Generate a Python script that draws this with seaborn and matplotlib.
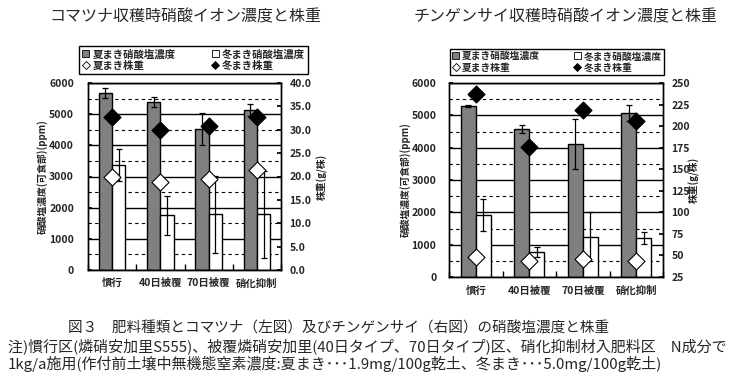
import numpy as np
import pandas as pd
import matplotlib
matplotlib.use("Agg")
import matplotlib.pyplot as plt
import seaborn as sns
from matplotlib.patches import Patch
from matplotlib.lines import Line2D
from matplotlib.ticker import MultipleLocator, FormatStrFormatter

sns.set_theme(style="ticks")
plt.rcParams['font.family'] = ['Noto Sans CJK JP', 'DejaVu Sans']

# ---------------- data ----------------
categories = ["慣行", "40日被覆", "70日被覆", "硝化抑制"]
seasons = ["夏まき", "冬まき"]

# コマツナ
kom_summer_no3 = [5680, 5390, 4520, 5130]
kom_summer_no3_err = [165, 150, 515, 200]
kom_winter_no3 = [3360, 1760, 1790, 1790]
kom_winter_no3_err = [520, 630, 1240, 1400]
kom_summer_wt = [20.0, 18.9, 19.4, 21.4]
kom_winter_wt = [32.7, 29.9, 30.7, 32.7]

# チンゲンサイ
chi_summer_no3 = [5290, 4580, 4110, 5070]
chi_summer_no3_err = [20, 125, 780, 250]
chi_winter_no3 = [1920, 775, 1250, 1210]
chi_winter_no3_err = [495, 155, 770, 190]
chi_summer_wt = [47.8, 43.9, 46.3, 43.2]
chi_winter_wt = [237.0, 176.0, 219.0, 205.5]

titles = ["コマツナ収穫時硝酸イオン濃度と株重", "チンゲンサイ収穫時硝酸イオン濃度と株重"]
legend_labels = ["夏まき硝酸塩濃度", "冬まき硝酸塩濃度", "夏まき株重", "冬まき株重"]
ylabel_left = "硝酸塩濃度(可食部)(ppm)"
ylabel_right = "株重(g/株)"
caption1 = "図３　肥料種類とコマツナ（左図）及びチンゲンサイ（右図）の硝酸塩濃度と株重"
caption2 = "注)慣行区(燐硝安加里S555)、被覆燐硝安加里(40日タイプ、70日タイプ)区、硝化抑制材入肥料区　N成分で"
caption3 = "1kg/a施用(作付前土壌中無機態窒素濃度:夏まき･･･1.9mg/100g乾土、冬まき･･･5.0mg/100g乾土)"

GRAY = "#808080"

fig = plt.figure(figsize=(7.37, 3.77), dpi=100)
axL = fig.add_axes([88/737, 1-270/377, 193/737, 187/377])
axR = fig.add_axes([449/737, 1-277/377, 214/737, 194/377])


def draw(ax, s_no3, s_err, w_no3, w_err, s_wt, w_wt, wlim, wstep, wfmt, barw,
         lab_l, lab_r, lpad, rpad, xpad):
    df = pd.DataFrame({
        "cat": categories * 2,
        "season": [seasons[0]] * 4 + [seasons[1]] * 4,
        "val": s_no3 + w_no3,
    })
    errs = [s_err, w_err]
    ax.set_axisbelow(True)
    sns.barplot(data=df, x="cat", y="val", hue="season", hue_order=seasons,
                palette={seasons[0]: GRAY, seasons[1]: "white"},
                edgecolor="black", linewidth=1, width=barw, saturation=1,
                errorbar=None, legend=False, ax=ax)
    for cont, e in zip(ax.containers, errs):
        xs = [p.get_x() + p.get_width() / 2 for p in cont.patches]
        ys = [p.get_height() for p in cont.patches]
        ax.errorbar(xs, ys, yerr=e, fmt="none", ecolor="black",
                    elinewidth=0.9, capsize=2.5, capthick=0.9, zorder=5)
    ax.set_xlim(-0.5, 3.5)
    ax.set_ylim(0, 6000)
    ax.yaxis.set_major_locator(MultipleLocator(1000))
    ax.yaxis.set_minor_locator(MultipleLocator(500))
    ax.yaxis.grid(True, which="major", color="black", lw=1)
    ax.yaxis.grid(True, which="minor", color="black", lw=0.8, ls=(0, (3, 3)))
    ax.xaxis.grid(False)
    ax.set_xticks(range(len(categories)))
    ax.set_xticklabels(categories, fontweight="bold", fontsize=7.5)
    ax.xaxis.set_minor_locator(MultipleLocator(1, offset=0.5))
    ax.tick_params(axis="x", which="major", length=0, pad=xpad)
    ax.tick_params(axis="x", which="minor", direction="in", length=4, color="black")
    ax.tick_params(axis="y", which="major", direction="in", length=3,
                   labelsize=7.5, color="black", pad=lpad)
    ax.tick_params(axis="y", which="minor", length=0)
    for t in ax.get_yticklabels():
        t.set_fontweight("bold")
    ax.set_xlabel("")
    ax.set_ylabel(ylabel_left, fontsize=7, fontweight="bold")
    ax.yaxis.set_label_coords(lab_l, 0.5)
    ax.yaxis.label.set_va("center")
    for s in ax.spines.values():
        s.set_color("black")
        s.set_linewidth(1)

    ax2 = ax.twinx()
    pos = np.arange(len(categories))
    sns.scatterplot(x=pos, y=s_wt, marker="D", color="white", edgecolor="black",
                    linewidth=0.8, s=75, ax=ax2, zorder=6)
    sns.scatterplot(x=pos, y=w_wt, marker="D", color="black", edgecolor="black",
                    linewidth=0.8, s=75, ax=ax2, zorder=6)
    ax2.set_xlim(-0.5, 3.5)
    ax2.set_ylim(*wlim)
    ax2.yaxis.set_major_locator(MultipleLocator(wstep))
    ax2.yaxis.set_major_formatter(FormatStrFormatter(wfmt))
    ax2.tick_params(axis="y", direction="in", length=3, labelsize=7.5,
                    color="black", pad=rpad)
    for t in ax2.get_yticklabels():
        t.set_fontweight("bold")
    ax2.set_ylabel(ylabel_right, fontsize=7, fontweight="bold", rotation=90)
    ax2.yaxis.set_label_coords(lab_r, 0.5)
    ax2.yaxis.label.set_va("center")
    ax2.yaxis.label.set_ha("center")
    for s in ax2.spines.values():
        s.set_color("black")
        s.set_linewidth(1)
    return ax2


draw(axL, kom_summer_no3, kom_summer_no3_err, kom_winter_no3, kom_winter_no3_err,
     kom_summer_wt, kom_winter_wt, (0, 40), 5, "%.1f", 0.55, -0.238, 1.215, 10, 6, 6)
draw(axR, chi_summer_no3, chi_summer_no3_err, chi_winter_no3, chi_winter_no3_err,
     chi_summer_wt, chi_winter_wt, (25, 250), 25, "%d", 0.56, -0.206, 1.147, 9, 6, 6.5)

# titles
fig.text(185/737, 1-17/377, titles[0], ha="center", va="center", fontsize=11.5)
fig.text(566/737, 1-17/377, titles[1], ha="center", va="center", fontsize=11.5)

# legends
def make_handles():
    return [
        Patch(facecolor=GRAY, edgecolor="black", linewidth=0.6),
        Line2D([], [], marker="D", ls="none", markerfacecolor="white",
               markeredgecolor="black", markersize=4, markeredgewidth=0.6),
        Patch(facecolor="white", edgecolor="black", linewidth=0.6),
        Line2D([], [], marker="D", ls="none", markerfacecolor="black",
               markeredgecolor="black", markersize=4, markeredgewidth=0.6),
    ]

order_labels = [legend_labels[0], legend_labels[2], legend_labels[1], legend_labels[3]]
for cx, cy, fs, colsp in [(193.5, 60, 7.5, 3.5), (557, 62, 7, 3.5)]:
    leg = fig.legend(make_handles(), order_labels, ncol=2, loc="center",
                     bbox_to_anchor=(cx/737, 1-cy/377), frameon=True,
                     fancybox=False, edgecolor="black", framealpha=1,
                     prop={"size": fs, "weight": "bold"},
                     handlelength=0.7, handleheight=0.7, handletextpad=0.3,
                     columnspacing=colsp, labelspacing=0.15, borderpad=0.25,
                     borderaxespad=0)
    leg.get_frame().set_linewidth(1)

# captions
fig.text(339/737, 1-328/377, caption1, ha="center", va="center", fontsize=10.5)
fig.text(8/737, 1-346/377, caption2, ha="left", va="center", fontsize=10.8)
fig.text(8/737, 1-364/377, caption3, ha="left", va="center", fontsize=10.8)

fig.savefig("out.png", dpi=100)
